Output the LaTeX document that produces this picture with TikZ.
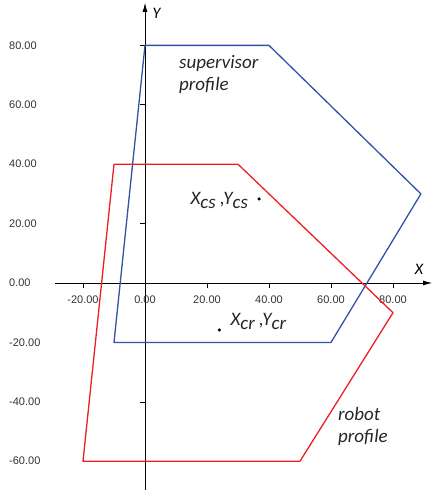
\documentclass[tikz,border=0pt]{standalone}
\usepackage{fontspec}
\setmainfont{Carlito}
\newfontfamily\axisfont{Liberation Sans}
\usetikzlibrary{arrows.meta,positioning}
\definecolor{supblue}{RGB}{48,82,168}
\definecolor{robred}{RGB}{237,30,36}

\begin{document}
\begin{tikzpicture}[x=3.1pt,y=2.97pt,
  profile/.style={line width=1.3pt,line join=round},
  axisline/.style={line width=0.8pt,-{Latex[length=9pt,width=5pt]}},
  ticklbl/.style={font=\axisfont\fontsize{11}{13}\selectfont,
                  text=black!80,inner sep=0pt},
  tag/.style={font=\fontsize{19}{22}\selectfont\itshape,align=left,
              inner sep=0pt,text=black!85},
  axlbl/.style={font=\fontsize{16}{18}\selectfont\itshape,inner sep=0pt},
  pnt/.style={circle,fill=black,inner sep=0pt,minimum size=3.5pt}]

\useasboundingbox (-145pt,-209pt) rectangle (288pt,283pt);

% ---- axes ----
\coordinate (xmin) at (-29,0);
\coordinate (xmax) at (92.6,0);
\coordinate (ymin) at (0,-69.7);
\coordinate (ymax) at (0,94.3);
\draw[axisline] (xmin) -- (xmax);
\draw[axisline] (ymin) -- (ymax);
\node[axlbl] (xname) at (274pt,14pt) {X};
\node[axlbl] (yname) at (11.5pt,270pt) {Y};

\foreach \v [count=\i] in {-20,0,20,40,60,80}{
  \ifnum\v=0\else\draw[line width=0.6pt] (\v,0) -- ++(0,-5pt);\fi
  \node[ticklbl] (xl\i) at ([yshift=-17pt]\v,0) {\v.00};
}
\foreach \v [count=\i] in {-60,-40,-20,0,20,40,60,80}{
  \ifnum\v=0\else\draw[line width=0.6pt] (0,\v) -- ++(-5pt,0);\fi
  \node[ticklbl,anchor=west] (yl\i) at ([xshift=-136pt]0,\v) {\v.00};
}

% ---- supervisor profile ----
\coordinate (s1) at (0,80);
\coordinate (s2) at (40,80);
\coordinate (s3) at (89,30);
\coordinate (s4) at (60,-20);
\coordinate (s5) at (-10,-20);
\draw[profile,supblue] (s1) -- (s2) -- (s3) -- (s4) -- (s5) -- cycle;
\node[tag,anchor=west] (suplbl) at (34pt,209pt) {supervisor\\profile};

% ---- robot profile ----
\coordinate (r1) at (-10,40);
\coordinate (r2) at (30,40);
\coordinate (r3) at (80,-10);
\coordinate (r4) at (50,-60);
\coordinate (r5) at (-20,-60);
\draw[profile,robred] (r1) -- (r2) -- (r3) -- (r4) -- (r5) -- cycle;
\node[tag,anchor=west] (roblbl) at (193pt,-143pt) {robot\\profile};

% ---- centres ----
\node[pnt] (cs) at (36.8,28.3) {};
\node[tag,left=9pt of cs,yshift=-2pt] (cslbl)
  {X\raisebox{-4pt}{cs} ,Y\raisebox{-4pt}{cs}};
\node[pnt] (cr) at (24,-15.8) {};
\node[tag,right=9pt of cr,yshift=8pt] (crlbl)
  {X\raisebox{-4pt}{cr} ,Y\raisebox{-4pt}{cr}};
\end{tikzpicture}
\end{document}
